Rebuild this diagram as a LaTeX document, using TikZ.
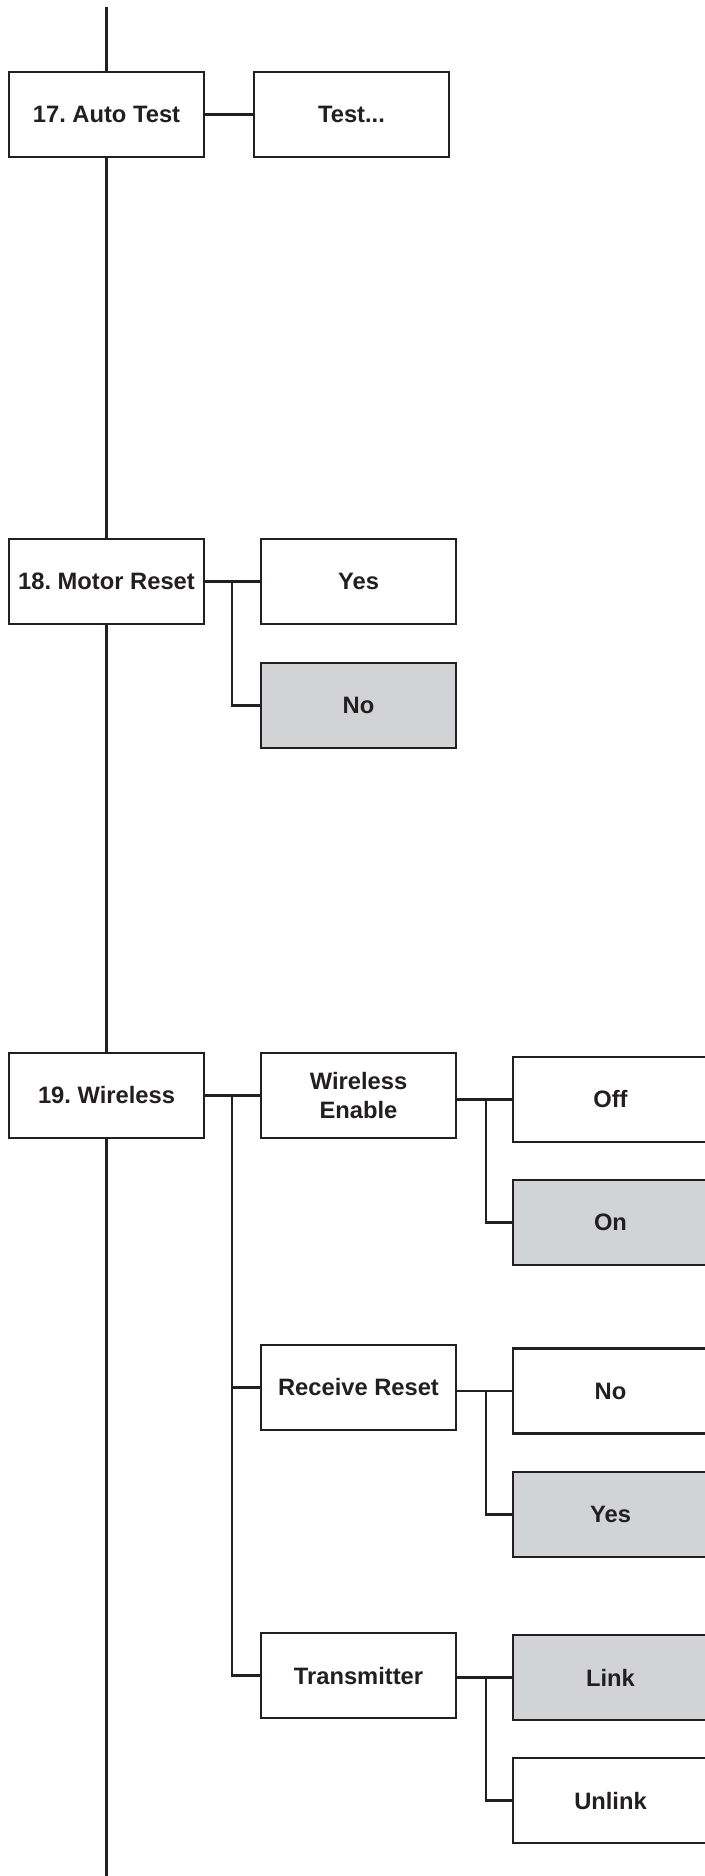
\documentclass[tikz,border=0pt]{standalone}
\usepackage{fontspec}
\setmainfont{Liberation Sans}
\usepackage{tikz}
\usetikzlibrary{positioning}
\definecolor{MenuInk}{RGB}{35,31,32}
\definecolor{MenuGray}{RGB}{210,211,213}
\frenchspacing

\begin{document}
\begin{tikzpicture}[
          mbox/.style={rectangle, draw=MenuInk, line width=1.3pt, fill=white,
                       minimum width=3.9cm, minimum height=1.7cm, align=center,
                       text=MenuInk, font=\fontsize{13.5}{16}\selectfont\bfseries},
          sel/.style={mbox, fill=MenuGray},
          wire/.style={draw=MenuInk, line width=1.3pt}
        ]
        \useasboundingbox (0,0) rectangle (14.08,-37.52);

        % main menu items
        \node[mbox] (at17) at (2.13, -2.29)  {17. Auto Test};
        \node[mbox] (mr18) at (2.13, -11.63) {18. Motor Reset};
        \node[mbox] (wl19) at (2.13, -21.91) {19. Wireless};

        \coordinate (top) at (2.13, -0.14);
        \coordinate (bot) at (2.13, -37.6);

        % second level
        \node[mbox] (test)    at (7.03, -2.29)  {Test...};
        \node[mbox] (yes18)   at (7.17, -11.63) {Yes};
        \node[sel]  (no18)    at (7.17, -14.11) {No};
        \node[mbox] (wenable) at (7.17, -21.91) {Wireless\\Enable};
        \node[mbox] (rreset)  at (7.17, -27.75) {Receive Reset};
        \node[mbox] (trans)   at (7.17, -33.51) {Transmitter};

        % third level
        \node[mbox] (off)    at (12.21, -21.99) {Off};
        \node[sel]  (on)     at (12.21, -24.45) {On};
        \node[mbox] (rno)    at (12.21, -27.82) {No};
        \node[sel]  (ryes)   at (12.21, -30.29) {Yes};
        \node[sel]  (link)   at (12.21, -33.55) {Link};
        \node[mbox] (unlink) at (12.21, -36.01) {Unlink};

        % spine
        \draw[wire] (top)       -- (at17.north);
        \draw[wire] (at17.south) -- (mr18.north);
        \draw[wire] (mr18.south) -- (wl19.north);
        \draw[wire] (wl19.south) -- (bot);

        \draw[wire] (at17) -- (test);
        \draw[wire] (mr18) -- (yes18);
        \draw[wire] ([xshift=-0.56cm]yes18.west) |- (no18.west);

        \draw[wire] (wl19) -- (wenable);
        \draw[wire] ([xshift=-0.56cm]wenable.west) |- (rreset.west);
        \draw[wire] ([xshift=-0.56cm]wenable.west) |- (trans.west);

        \draw[wire] (wenable.east |- off) -- (off.west);
        \draw[wire] ([xshift=-0.52cm]off.west) |- (on.west);
        \draw[wire] (rreset.east |- rno) -- (rno.west);
        \draw[wire] ([xshift=-0.52cm]rno.west) |- (ryes.west);
        \draw[wire] (trans.east |- link) -- (link.west);
        \draw[wire] ([xshift=-0.52cm]link.west) |- (unlink.west);
      \end{tikzpicture}
\end{document}
